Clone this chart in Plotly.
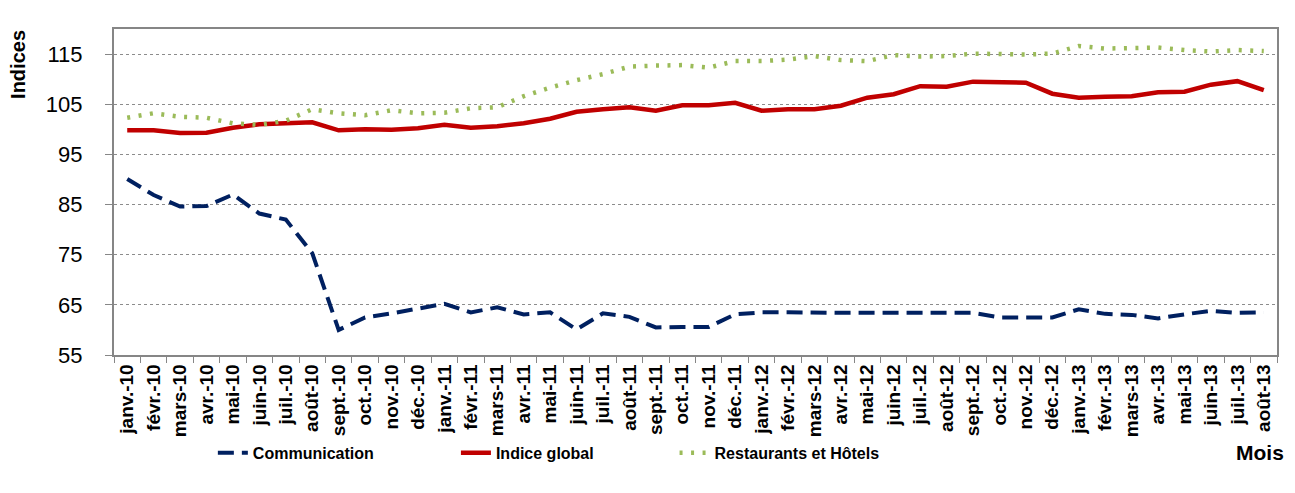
import plotly.graph_objects as go

mois = ["janv.-10", "févr.-10", "mars-10", "avr.-10", "mai-10", "juin-10", "juil.-10", "août-10",
        "sept.-10", "oct.-10", "nov.-10", "déc.-10",
        "janv.-11", "févr.-11", "mars-11", "avr.-11", "mai-11", "juin-11", "juil.-11", "août-11",
        "sept.-11", "oct.-11", "nov.-11", "déc.-11",
        "janv.-12", "févr.-12", "mars-12", "avr.-12", "mai-12", "juin-12", "juil.-12", "août-12",
        "sept.-12", "oct.-12", "nov.-12", "déc.-12",
        "janv.-13", "févr.-13", "mars-13", "avr.-13", "mai-13", "juin-13", "juil.-13", "août-13"]

communication = [90.1, 86.9, 84.6, 84.7, 87.0, 83.2, 82.0, 75.3, 60.0, 62.5, 63.3, 64.3,
                 65.2, 63.5, 64.5, 63.1, 63.5, 60.1, 63.3, 62.6, 60.5, 60.6, 60.6, 63.1,
                 63.5, 63.5, 63.4, 63.4, 63.4, 63.4, 63.4, 63.4, 63.4, 62.5, 62.5, 62.5,
                 64.1, 63.2, 63.0, 62.3, 63.1, 63.8, 63.4, 63.5]

indice_global = [99.8, 99.8, 99.25, 99.3, 100.3, 101.0, 101.2, 101.4, 99.8, 100.0, 99.9, 100.2,
                 100.9, 100.3, 100.6, 101.2, 102.1, 103.5, 104.0, 104.4, 103.7, 104.8, 104.8, 105.3,
                 103.7, 104.0, 104.0, 104.7, 106.3, 107.0, 108.6, 108.5, 109.5, 109.4, 109.3, 107.1,
                 106.3, 106.5, 106.6, 107.4, 107.5, 108.9, 109.6, 107.8]

restaurants = [102.3, 103.2, 102.5, 102.3, 101.2, 100.9, 101.7, 104.0, 103.2, 102.8, 103.8, 103.2,
               103.3, 104.2, 104.4, 106.6, 108.3, 109.8, 111.0, 112.5, 112.7, 112.8, 112.3, 113.6,
               113.6, 113.9, 114.6, 113.8, 113.6, 114.8, 114.5, 114.6, 115.1, 115.0, 114.9, 115.1,
               116.6, 116.1, 116.1, 116.3, 115.8, 115.5, 115.8, 115.6]

y_ticks = [55, 65, 75, 85, 95, 105, 115]

FONT = "Liberation Sans, Arial, sans-serif"

fig = go.Figure()
fig.add_trace(go.Scatter(x=mois, y=communication, mode="lines", name="Communication",
                         line=dict(color="#002060", width=4, dash="16px,8px"), legend="legend"))
fig.add_trace(go.Scatter(x=mois, y=indice_global, mode="lines", name="Indice global",
                         line=dict(color="#C00000", width=4.5), legend="legend2"))
fig.add_trace(go.Scatter(x=mois, y=restaurants, mode="lines", name="Restaurants et Hôtels",
                         line=dict(color="#9BBB59", width=4.5, dash="3px,8.5px"), legend="legend3"))

legend_common = dict(orientation="h", yanchor="middle", y=-0.30, xanchor="left",
                     bgcolor="rgba(0,0,0,0)", borderwidth=0,
                     font=dict(family=FONT, size=16, color="#000000", weight="bold"))

fig.update_layout(
    width=1279, height=477,
    margin=dict(l=106, r=10, t=21, b=130, autoexpand=False),
    paper_bgcolor="white", plot_bgcolor="white",
    showlegend=True,
    legend=dict(x=0.085, **legend_common),
    legend2=dict(x=0.294, **legend_common),
    legend3=dict(x=0.482, **legend_common),
    xaxis=dict(
        type="category", range=[-0.5, len(mois) - 0.5],
        showline=True, linecolor="#868686", linewidth=1.5, mirror=True,
        ticks="outside", ticklen=6, tickcolor="#868686", tickwidth=1, tickson="boundaries",
        tickangle=-90, showgrid=False,
        tickfont=dict(family=FONT, size=19, color="#000000", weight="bold"),
    ),
    yaxis=dict(
        range=[55, 120], tickvals=y_ticks, ticktext=[str(v) + "\u00a0\u00a0\u00a0" for v in y_ticks],
        showline=True, linecolor="#868686", linewidth=1.5, mirror=True,
        ticks="outside", ticklen=7, tickcolor="#868686", tickwidth=1,
        showgrid=True, gridcolor="#8c8c8c", gridwidth=1, griddash="dot",
        zeroline=False,
        tickfont=dict(family=FONT, size=22, color="#000000"),
    ),
    annotations=[
        dict(text="Indices", xref="paper", yref="paper", x=-0.0825, y=0.89,
             xanchor="center", yanchor="middle", textangle=-90, showarrow=False,
             font=dict(family=FONT, size=20, color="#000000", weight="bold")),
        dict(text="Mois", xref="paper", yref="paper", x=0.9855, y=-0.30,
             xanchor="center", yanchor="middle", showarrow=False,
             font=dict(family=FONT, size=21, color="#000000", weight="bold")),
    ],
)

fig.write_html("out.html")
